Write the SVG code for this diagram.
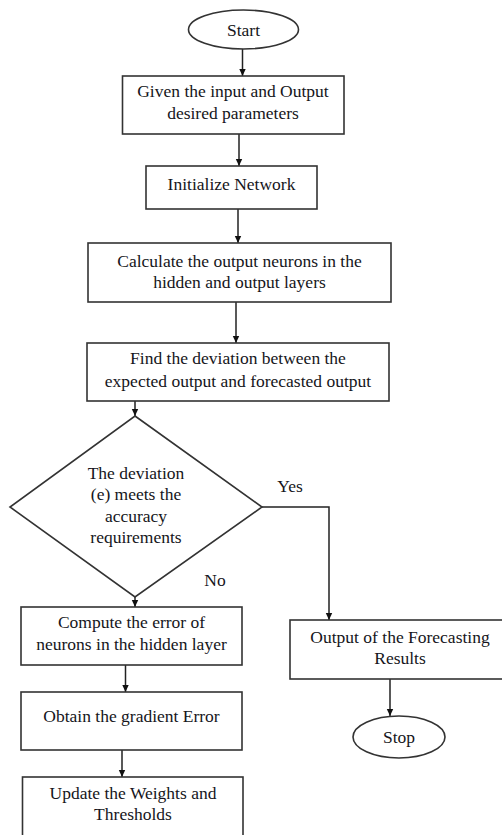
<svg xmlns="http://www.w3.org/2000/svg" width="502" height="835" viewBox="0 0 502 835">
<defs>
<marker id="ah" markerWidth="8" markerHeight="8" refX="7" refY="4" orient="auto" markerUnits="userSpaceOnUse">
<path d="M0,0.8 L7,4 L0,7.2 Z" fill="#111"/>
</marker>
<style>
.n{fill:#fff;stroke:#333;stroke-width:1.6}
.t{font-family:'Liberation Serif','Times New Roman',serif;font-size:17.5px;fill:#151520;text-anchor:middle}
.c{fill:none;stroke:#222;stroke-width:1.5}
.a{marker-end:url(#ah)}
</style>
</defs>
<rect width="502" height="835" fill="#fff"/>
<g id="connectors">
<line class="c a" x1="242.5" y1="49" x2="242.5" y2="76"/>
<line class="c a" x1="239" y1="134" x2="239" y2="166"/>
<line class="c a" x1="238" y1="209" x2="238" y2="243"/>
<line class="c a" x1="236" y1="302" x2="236" y2="343"/>
<line class="c a" x1="135" y1="401" x2="135" y2="416"/>
<polyline class="c a" points="262,507 329,507 329,620"/>
<line class="c a" x1="135" y1="597" x2="135" y2="607"/>
<line class="c a" x1="125.5" y1="665" x2="125.5" y2="692"/>
<line class="c a" x1="122" y1="750" x2="122" y2="777"/>
<line class="c a" x1="390" y1="679" x2="390" y2="716"/>
<text class="t" x="290" y="492">Yes</text>
<text class="t" x="215" y="586">No</text>
</g>
<g id="start">
<ellipse class="n" cx="243.5" cy="29.5" rx="55" ry="19.5"/>
<text class="t" x="243.5" y="35.5">Start</text>
</g>
<g id="given">
<rect class="n" x="122.5" y="76" width="221.5" height="58"/>
<text class="t" x="233" y="96.5">Given the input and Output</text>
<text class="t" x="233" y="118.5">desired parameters</text>
</g>
<g id="init">
<rect class="n" x="146" y="166" width="171" height="43"/>
<text class="t" x="231.5" y="189.5">Initialize Network</text>
</g>
<g id="calc">
<rect class="n" x="88" y="243" width="303" height="59"/>
<text class="t" x="239.5" y="266.5">Calculate the output neurons in the</text>
<text class="t" x="239.5" y="288">hidden and output layers</text>
</g>
<g id="find">
<rect class="n" x="87" y="343" width="302" height="58"/>
<text class="t" x="238" y="364">Find the deviation between the</text>
<text class="t" x="238" y="386.5">expected output and forecasted output</text>
</g>
<g id="decision">
<polygon class="n" points="135,416 262,507 135,597 10,507"/>
<text class="t" x="136" y="478.5">The deviation</text>
<text class="t" x="136" y="500">(e) meets the</text>
<text class="t" x="136" y="521.5">accuracy</text>
<text class="t" x="136" y="543">requirements</text>
</g>
<g id="compute">
<rect class="n" x="21" y="607" width="221" height="58"/>
<text class="t" x="131.5" y="628">Compute the error of</text>
<text class="t" x="131.5" y="650">neurons in the hidden layer</text>
</g>
<g id="gradient">
<rect class="n" x="21" y="692" width="221" height="58"/>
<text class="t" x="131.5" y="721.5">Obtain the gradient Error</text>
</g>
<g id="update">
<rect class="n" x="22.5" y="777" width="220.5" height="70"/>
<text class="t" x="133" y="798.5">Update the Weights and</text>
<text class="t" x="133" y="820">Thresholds</text>
</g>
<g id="output">
<rect class="n" x="290" y="620" width="216" height="59"/>
<text class="t" x="400" y="642.5">Output of the Forecasting</text>
<text class="t" x="400" y="664">Results</text>
</g>
<g id="stop">
<ellipse class="n" cx="399" cy="737" rx="46" ry="21"/>
<text class="t" x="399" y="742.5">Stop</text>
</g>
</svg>
